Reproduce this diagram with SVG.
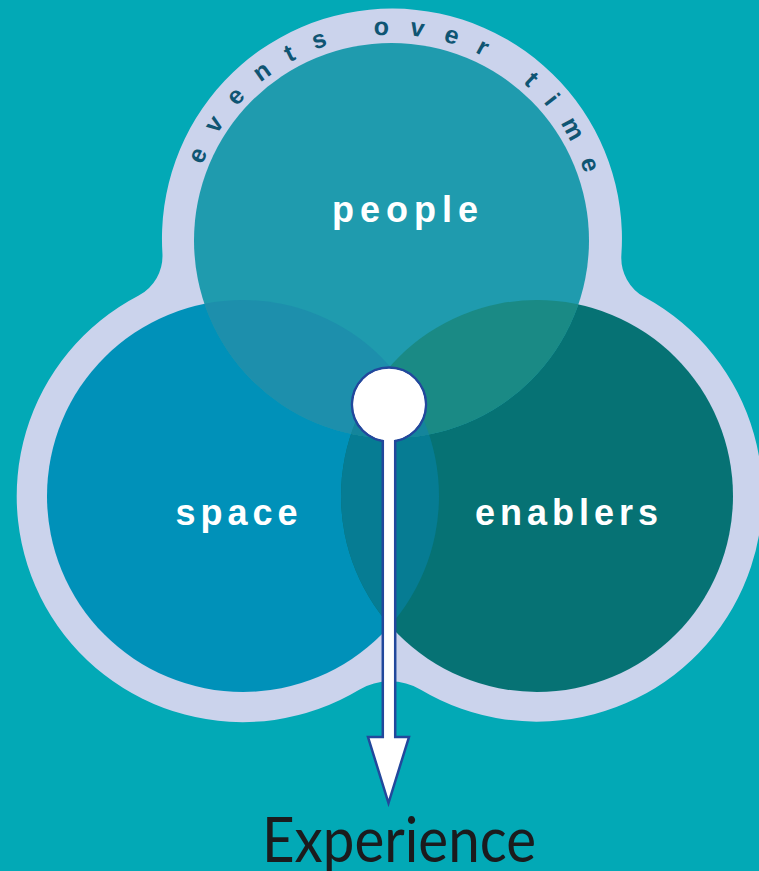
<svg xmlns="http://www.w3.org/2000/svg" width="759" height="871" viewBox="0 0 759 871">
  <style>
    .lbl { font-family: "Liberation Sans", Arial, sans-serif; font-weight: bold; fill: #ffffff; text-anchor: middle; }
    .arc { font-family: "Liberation Sans", Arial, sans-serif; font-weight: bold; fill: #0F5573; font-size: 25px; letter-spacing: 20px; }
    .exp { font-family: Lato, "Liberation Sans", Arial, sans-serif; fill: #1B1B1D; font-size: 62px; }
    .ln { stroke: #22489C; stroke-width: 2.5; fill: #ffffff; stroke-linejoin: miter; }
  </style>
  <defs>
    <clipPath id="cP"><circle cx="391.5" cy="240.5" r="197.5"/></clipPath>
    <clipPath id="cS"><circle cx="243" cy="496" r="196"/></clipPath>
    <clipPath id="cE"><circle cx="537" cy="496" r="196"/></clipPath>
    <path id="textArc" d="M 189 238 A 203 203 0 0 1 595 238"/>
  </defs>

  <rect x="0" y="0" width="759" height="871" fill="#02A9B6"/>

  <g id="band">
    <path fill="#CBD3EC" d="M 162.4 252.9 A 230 230 0 1 1 621.4 254.6 A 45 45 0 0 0 644.8 297.3 A 226 226 0 1 1 420.8 689.8 A 60 60 0 0 0 359.2 689.8 A 226 226 0 1 1 138.3 295.7 A 45 45 0 0 0 162.4 252.9 Z"/>
    <text class="arc"><textPath href="#textArc" startOffset="333" text-anchor="middle">events over time</textPath></text>
  </g>

  <g id="node-space">
    <circle cx="243" cy="496" r="196" fill="#0091B9"/>
  </g>
  <g id="node-enablers">
    <circle cx="537" cy="496" r="196" fill="#067274"/>
    <circle cx="243" cy="496" r="196" fill="#067C93" clip-path="url(#cE)"/>
  </g>
  <g id="node-people">
    <circle cx="391.5" cy="240.5" r="197.5" fill="#1F9BAE"/>
    <circle cx="243" cy="496" r="196" fill="#1D8FAC" clip-path="url(#cP)"/>
    <circle cx="537" cy="496" r="196" fill="#1A8A85" clip-path="url(#cP)"/>
    <g clip-path="url(#cP)"><circle cx="243" cy="496" r="196" fill="#14859C" clip-path="url(#cE)"/></g>
  </g>

  <g id="labels">
    <text class="lbl" x="408" y="222" font-size="36" letter-spacing="6">people</text>
    <text class="lbl" x="239" y="525" font-size="36" letter-spacing="5">space</text>
    <text class="lbl" x="569" y="525" font-size="36" letter-spacing="5">enablers</text>
  </g>

  <g id="connectors">
    <circle class="ln" cx="389" cy="404.5" r="37"/>
    <polygon class="ln" points="382.8,430 382.8,737 368,737 388.5,803 409,737 395.2,737 395.2,430"/>
    <circle cx="389" cy="404.5" r="35.6" fill="#ffffff"/>
  </g>

  <g id="node-experience">
    <text class="exp" x="262" y="862" textLength="274" lengthAdjust="spacingAndGlyphs">Experience</text>
  </g>
</svg>
